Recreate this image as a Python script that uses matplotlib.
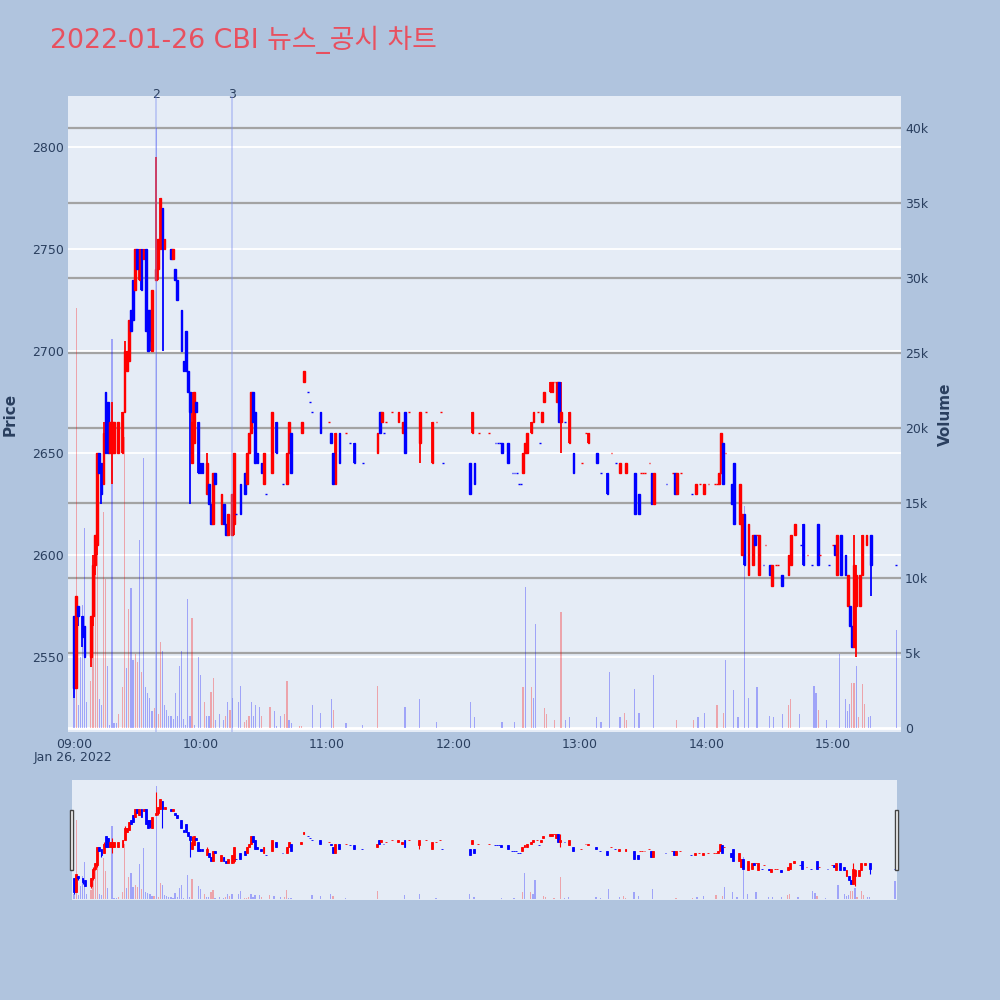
import matplotlib
matplotlib.use('Agg')
import matplotlib.pyplot as plt
from matplotlib.patches import Rectangle

plt.rcParams['font.family'] = ['DejaVu Sans', 'Noto Sans CJK KR']

title = "2022-01-26 CBI 뉴스_공시 차트"
date_label = "Jan 26, 2022"

# ---- candle data (1-minute) ----
candle_time = ["09:00","09:01","09:02","09:04","09:05","09:08","09:09","09:10","09:11","09:12",
               "09:13","09:14","09:15","09:16","09:17","09:18","09:19","09:21","09:23","09:24",
               "09:25","09:26","09:27","09:28","09:29","09:30","09:31","09:32","09:33","09:34",
               "09:35","09:36","09:37","09:39","09:40","09:41","09:42","09:43","09:46","09:47",
               "09:48","09:49","09:51","09:52","09:53","09:54","09:55","09:56","09:57","09:58",
               "09:59","10:00","10:01","10:03","10:04","10:05","10:06","10:07","10:10","10:11",
               "10:12","10:13","10:15","10:16","10:17","10:19","10:21","10:22","10:23","10:24",
               "10:25","10:26","10:27","10:29","10:30","10:31","10:34","10:36","10:39","10:41",
               "10:42","10:43","10:48","10:49","10:51","10:52","10:53","10:57","11:01","11:02",
               "11:03","11:04","11:06","11:09","11:11","11:13","11:17","11:24","11:25","11:26",
               "11:27","11:28","11:31","11:34","11:36","11:37","11:39","11:44","11:47","11:50",
               "11:52","11:54","11:55","12:08","12:09","12:10","12:12","12:17","12:20","12:21",
               "12:22","12:23","12:26","12:28","12:29","12:30","12:31","12:32","12:33","12:34",
               "12:35","12:37","12:38","12:40","12:41","12:42","12:43","12:46","12:47","12:48",
               "12:49","12:50","12:51","12:53","12:55","12:57","13:01","13:03","13:04","13:08",
               "13:10","13:13","13:15","13:17","13:19","13:22","13:26","13:28","13:29","13:30",
               "13:31","13:33","13:34","13:35","13:41","13:44","13:45","13:46","13:48","13:53",
               "13:55","13:57","13:59","14:01","14:04","14:05","14:06","14:07","14:08","14:09",
               "14:12","14:13","14:16","14:17","14:18","14:20","14:22","14:23","14:24","14:25",
               "14:27","14:28","14:30","14:31","14:33","14:34","14:36","14:39","14:40","14:42",
               "14:45","14:46","14:48","14:50","14:53","14:54","14:58","15:00","15:01","15:02",
               "15:04","15:06","15:07","15:08","15:09","15:10","15:11","15:13","15:14","15:16",
               "15:18","15:30"]
candle_open = [2570,2535,2575,2570,2565,2550,2570,2595,2605,2650,
               2645,2635,2680,2675,2650,2650,2650,2650,2650,2670,
               2690,2695,2720,2735,2730,2750,2735,2750,2745,2750,
               2720,2720,2700,2735,2740,2750,2770,2750,2750,2745,
               2740,2735,2720,2695,2710,2690,2680,2645,2655,2675,
               2665,2645,2645,2630,2635,2625,2615,2640,2615,2625,
               2615,2610,2610,2615,2620,2635,2640,2635,2650,2660,
               2680,2670,2650,2645,2635,2630,2640,2665,2635,2635,
               2650,2660,2660,2685,2680,2675,2670,2670,2665,2660,
               2650,2635,2660,2660,2655,2655,2645,2650,2670,2665,
               2660,2665,2670,2665,2660,2670,2670,2655,2670,2645,
               2665,2670,2645,2645,2660,2645,2660,2660,2655,2655,
               2655,2655,2655,2640,2640,2640,2635,2635,2640,2650,
               2650,2660,2665,2670,2655,2665,2675,2680,2680,2685,
               2675,2685,2665,2665,2655,2650,2645,2660,2655,2650,
               2640,2640,2650,2645,2640,2640,2640,2630,2640,2640,
               2640,2645,2640,2625,2635,2640,2640,2630,2640,2630,
               2630,2635,2630,2635,2635,2635,2635,2640,2655,2650,
               2635,2645,2615,2600,2620,2590,2595,2610,2610,2590,
               2595,2605,2595,2585,2595,2595,2590,2590,2595,2610,
               2605,2615,2600,2595,2615,2600,2595,2605,2605,2590,
               2610,2600,2575,2575,2565,2555,2575,2575,2590,2605,
               2610,2595]
candle_high = [2570,2580,2575,2570,2565,2570,2600,2610,2650,2650,
               2645,2665,2680,2675,2665,2675,2665,2665,2670,2705,
               2700,2715,2720,2735,2750,2750,2750,2750,2750,2750,
               2720,2720,2730,2795,2755,2775,2770,2755,2750,2750,
               2740,2735,2720,2695,2710,2690,2680,2680,2680,2675,
               2665,2645,2645,2650,2635,2625,2640,2640,2630,2625,
               2615,2620,2630,2650,2620,2635,2640,2650,2660,2680,
               2680,2670,2650,2645,2650,2630,2670,2665,2635,2650,
               2665,2660,2665,2690,2680,2675,2670,2670,2665,2660,
               2650,2660,2660,2660,2655,2655,2645,2660,2670,2670,
               2660,2665,2670,2670,2665,2670,2670,2670,2670,2665,
               2665,2670,2645,2645,2670,2645,2660,2660,2655,2655,
               2655,2655,2655,2640,2640,2640,2635,2635,2650,2655,
               2660,2665,2670,2670,2655,2670,2680,2685,2685,2685,
               2685,2685,2685,2665,2670,2650,2645,2660,2660,2650,
               2640,2640,2650,2645,2645,2645,2640,2630,2640,2640,
               2640,2645,2640,2640,2635,2640,2640,2640,2640,2630,
               2635,2635,2635,2635,2635,2635,2640,2660,2655,2650,
               2635,2645,2635,2620,2620,2615,2610,2610,2610,2610,
               2595,2605,2595,2595,2595,2595,2590,2600,2610,2615,
               2605,2615,2600,2595,2615,2600,2595,2605,2605,2610,
               2610,2600,2590,2575,2565,2610,2595,2590,2610,2610,
               2610,2595]
candle_low = [2530,2535,2565,2555,2550,2545,2565,2590,2600,2640,
              2625,2635,2650,2650,2650,2635,2650,2650,2650,2670,
              2690,2695,2710,2715,2730,2740,2735,2730,2745,2710,
              2700,2700,2700,2735,2735,2750,2700,2750,2745,2745,
              2735,2725,2700,2690,2690,2680,2625,2645,2655,2670,
              2640,2640,2640,2630,2625,2615,2615,2635,2615,2615,
              2610,2610,2610,2610,2620,2620,2630,2635,2650,2660,
              2665,2645,2645,2640,2635,2630,2640,2650,2635,2635,
              2650,2640,2660,2685,2680,2675,2670,2660,2665,2655,
              2635,2635,2645,2660,2655,2645,2645,2650,2660,2665,
              2660,2665,2670,2665,2660,2650,2670,2645,2670,2645,
              2665,2670,2645,2630,2660,2635,2660,2660,2655,2655,
              2655,2650,2645,2640,2640,2640,2635,2635,2640,2650,
              2650,2660,2665,2670,2655,2665,2675,2680,2680,2685,
              2675,2665,2650,2665,2655,2640,2645,2660,2655,2645,
              2640,2630,2650,2645,2640,2640,2620,2620,2640,2640,
              2640,2645,2625,2625,2635,2640,2630,2630,2640,2630,
              2630,2635,2630,2635,2635,2635,2635,2640,2635,2650,
              2625,2615,2615,2600,2595,2590,2595,2605,2610,2590,
              2595,2605,2590,2585,2595,2595,2585,2590,2595,2610,
              2605,2595,2600,2595,2595,2600,2595,2605,2600,2590,
              2590,2590,2575,2565,2555,2555,2550,2575,2590,2605,
              2580,2595]
candle_close = [2535,2580,2570,2560,2550,2570,2595,2610,2650,2640,
                2630,2660,2650,2650,2665,2665,2665,2665,2670,2700,
                2700,2715,2710,2715,2750,2740,2750,2730,2750,2710,
                2700,2705,2730,2740,2755,2775,2750,2755,2745,2750,
                2735,2725,2700,2690,2690,2680,2670,2665,2680,2670,
                2640,2640,2640,2645,2625,2615,2640,2635,2630,2615,
                2610,2620,2630,2650,2620,2620,2630,2650,2660,2680,
                2665,2645,2645,2640,2650,2630,2670,2650,2635,2650,
                2665,2640,2665,2690,2680,2675,2670,2660,2665,2655,
                2635,2660,2645,2660,2655,2645,2645,2660,2660,2670,
                2660,2665,2670,2670,2665,2650,2670,2670,2670,2665,
                2665,2670,2645,2630,2670,2635,2660,2660,2655,2655,
                2655,2650,2645,2640,2640,2640,2635,2635,2650,2655,
                2660,2665,2670,2670,2655,2670,2680,2685,2685,2685,
                2685,2665,2670,2665,2670,2640,2645,2660,2660,2645,
                2640,2630,2650,2645,2645,2645,2620,2620,2640,2640,
                2640,2645,2625,2640,2635,2640,2630,2640,2640,2630,
                2635,2635,2635,2635,2635,2635,2640,2660,2635,2650,
                2625,2615,2635,2620,2595,2615,2610,2605,2610,2610,
                2595,2605,2590,2595,2595,2595,2585,2600,2610,2615,
                2605,2595,2600,2595,2595,2600,2595,2605,2600,2610,
                2590,2590,2590,2565,2555,2595,2590,2590,2610,2610,
                2595,2595]

# ---- volume data ----
vol_time = ["09:00","09:01","09:02","09:03","09:04","09:05","09:06","09:08","09:09","09:10",
            "09:11","09:12","09:13","09:14","09:15","09:16","09:17","09:18","09:19","09:20",
            "09:21","09:23","09:24","09:25","09:26","09:27","09:28","09:29","09:30","09:31",
            "09:32","09:33","09:34","09:35","09:36","09:37","09:38","09:39","09:40","09:41",
            "09:42","09:43","09:44","09:45","09:46","09:47","09:48","09:49","09:50","09:51",
            "09:52","09:53","09:54","09:55","09:56","09:57","09:59","10:00","10:02","10:03",
            "10:04","10:05","10:06","10:07","10:09","10:11","10:12","10:13","10:14","10:15",
            "10:18","10:19","10:21","10:22","10:23","10:24","10:25","10:26","10:28","10:29",
            "10:33","10:35","10:36","10:38","10:40","10:41","10:42","10:43","10:47","10:48",
            "10:53","10:57","11:02","11:03","11:09","11:17","11:24","11:37","11:44","11:52",
            "12:08","12:10","12:23","12:29","12:33","12:34","12:37","12:38","12:39","12:43",
            "12:44","12:48","12:51","12:53","12:55","13:08","13:10","13:14","13:19","13:21",
            "13:22","13:26","13:28","13:35","13:46","13:54","13:56","13:59","14:05","14:08",
            "14:09","14:13","14:15","14:18","14:20","14:24","14:30","14:32","14:36","14:39",
            "14:40","14:44","14:51","14:52","14:53","14:57","15:03","15:06","15:07","15:08",
            "15:09","15:10","15:11","15:12","15:14","15:15","15:17","15:18","15:30"]
vol_value = [2000,28000,1500,4700,8200,13300,1700,3100,10300,11500,
             14000,1900,1500,14400,9900,4100,200,25900,300,300,
             900,2700,19400,4000,7900,9300,4500,4900,4400,12500,
             3700,18000,2700,2300,2000,1100,1300,40000,900,5700,
             5100,1500,1200,800,800,600,2300,800,4100,5100,
             600,200,8600,800,7300,200,4700,3500,1700,800,
             800,2400,3300,500,900,500,800,1700,1200,2000,
             1700,2800,400,500,800,1700,800,1500,1400,800,
             1400,1100,100,800,900,3100,500,300,100,100,
             1500,1000,1900,1200,300,200,2800,1400,1900,400,
             1700,700,400,400,2700,9400,2700,2000,6900,1300,
             900,500,7700,500,700,700,400,3700,700,1000,
             500,2600,1000,3500,500,500,700,1000,1500,1000,
             4500,2500,700,14800,2000,2700,800,700,900,1500,
             1900,900,2800,2300,1200,500,4900,1900,1100,1600,
             3000,3000,4100,700,2900,1600,700,800,6500]
vol_dir = ["down","up","down","down","down","down","down","up","up","up",
           "up","down","down","up","up","down","down","down","down","down",
           "up","up","up","down","up","down","down","up","up","down",
           "up","down","down","down","down","down","up","down","up","up",
           "down","down","down","down","down","down","down","down","down","down",
           "down","down","down","down","up","down","down","down","up","down",
           "down","up","up","down","down","down","up","down","up","down",
           "down","down","up","up","up","down","down","down","down","up",
           "up","down","down","down","up","up","down","down","up","up",
           "down","down","down","up","down","down","up","down","down","down",
           "down","down","down","down","up","down","up","down","down","up",
           "up","up","up","down","down","down","down","down","down","up",
           "up","down","down","down","up","up","down","down","up","up",
           "down","down","down","down","down","down","down","down","down","up",
           "up","down","down","down","up","down","down","down","down","down",
           "up","up","down","up","up","up","down","down","down"]

news_time = ["09:39", "10:15"]
news_label = ["2", "3"]
x_tick_labels = ["09:00", "10:00", "11:00", "12:00", "13:00", "14:00", "15:00"]
price_ticks = [2550, 2600, 2650, 2700, 2750, 2800]
vol_ticks = [0, 5000, 10000, 15000, 20000, 25000, 30000, 35000, 40000]
vol_tick_labels = ["0", "5k", "10k", "15k", "20k", "25k", "30k", "35k", "40k"]


def to_min(t):
    h, m = t.split(":")
    return (int(h) - 9) * 60 + int(m)


UP = "#FF0000"
DOWN = "#0000FF"
BG = "#B0C4DE"
PLOT_BG = "#E5ECF6"
TXT = "#2a3f5f"

cx = [to_min(t) for t in candle_time]
# plotly-like direction: compare close/open, ties resolved with previous close
cdir = []
prev_c = None
prev_up = True
for o, c in zip(candle_open, candle_close):
    if c > o:
        up = True
    elif c < o:
        up = False
    else:
        if prev_c is None or c == prev_c:
            up = prev_up
        else:
            up = c > prev_c
    cdir.append(up)
    prev_up = up
    prev_c = c
ccol = [UP if u else DOWN for u in cdir]

vx = [to_min(t) for t in vol_time]
vcol = [UP if d == "up" else DOWN for d in vol_dir]

XL = (-2.85, 392.3)
PL = (2513.2, 2825.0)
VL = (-267, 42133)

fig = plt.figure(figsize=(10, 10), dpi=100, facecolor=BG)


def draw(axv, axp, xl, body_w, wick_lw, edge_lw, vol_w, vol_alpha, grids):
    axv.set_facecolor(PLOT_BG)
    axp.set_facecolor("none")
    axp.set_zorder(axv.get_zorder() + 1)
    for a in (axv, axp):
        a.set_xlim(*xl)
        for s in a.spines.values():
            s.set_visible(False)
    axv.set_ylim(*VL)
    axp.set_ylim(*PL)
    if grids:
        for p in price_ticks:
            f = (p - PL[0]) / (PL[1] - PL[0])
            axv.plot([0, 1], [f, f], transform=axv.transAxes, color="white",
                     lw=1.3, zorder=0.2)
        for v in vol_ticks[1:]:
            axv.axhline(v, color="#a3a3a3", lw=1.6, zorder=0.3)
        axv.axhline(0, color="white", lw=2.0, zorder=0.4)
    axv.bar(vx, vol_value, width=vol_w, color=vcol, alpha=vol_alpha,
            linewidth=0, zorder=1)
    axp.vlines(cx, candle_low, candle_high, colors=ccol, lw=wick_lw, zorder=2)
    bottoms = [min(o, c) for o, c in zip(candle_open, candle_close)]
    heights = [abs(c - o) for o, c in zip(candle_open, candle_close)]
    axp.bar(cx, heights, bottom=bottoms, width=body_w, color=ccol,
            edgecolor=ccol, linewidth=edge_lw, zorder=3)


# main chart
axv = fig.add_axes([0.068, 0.268, 0.833, 0.636])
axp = fig.add_axes([0.068, 0.268, 0.833, 0.636], sharex=axv)
draw(axv, axp, XL, 0.8, 1.3, 1.0, 0.55, 0.3, True)

axp.set_yticks(price_ticks)
axp.set_yticklabels([str(p) for p in price_ticks])
axp.tick_params(axis="y", length=0, pad=3, labelsize=9, labelcolor=TXT)
axv.yaxis.tick_right()
axv.set_yticks(vol_ticks)
axv.set_yticklabels(vol_tick_labels)
axv.tick_params(axis="y", length=0, pad=3, labelsize=9, labelcolor=TXT)
axv.set_xticks([to_min(t) for t in x_tick_labels])
axv.set_xticklabels(x_tick_labels)
axv.tick_params(axis="x", length=0, pad=4, labelsize=9, labelcolor=TXT)
axp.tick_params(axis="x", bottom=False, labelbottom=False)

fig.text(0.010, 0.586, "Price", rotation=90, ha="center", va="center",
         fontsize=11, fontweight="bold", color=TXT)
fig.text(0.945, 0.586, "Volume", rotation=90, ha="center", va="center",
         fontsize=11, fontweight="bold", color=TXT)

for t, lab in zip(news_time, news_label):
    m = to_min(t)
    axp.axvline(m, color="#7f8ff0", alpha=0.45, lw=1.2, zorder=4)
    axp.text(m, 1.002, lab, transform=axp.get_xaxis_transform(), ha="center",
             va="center", fontsize=9, color=TXT)

fig.text(0.073, 1 - 0.758, date_label, ha="center", va="center", fontsize=9, color=TXT)
fig.text(0.05, 1 - 0.040, title, ha="left", va="center", fontsize=19.3,
         color="#E8505F", family=["DejaVu Sans", "Noto Sans CJK KR"])

# range slider
sv = fig.add_axes([0.072, 0.100, 0.825, 0.120])
sp = fig.add_axes([0.072, 0.100, 0.825, 0.120], sharex=sv)
draw(sv, sp, (-1, 391), 0.9, 0.8, 0.6, 0.6, 0.3, False)
for a in (sv, sp):
    a.set_xticks([])
    a.set_yticks([])

for hx in (0.0695, 0.8945):
    fig.patches.append(Rectangle((hx, 1 - 0.870), 0.0035, 0.060, transform=fig.transFigure,
                                 facecolor="white", edgecolor="#444444", lw=1.0, zorder=10))

fig.savefig("out.png", dpi=100, facecolor=BG)
